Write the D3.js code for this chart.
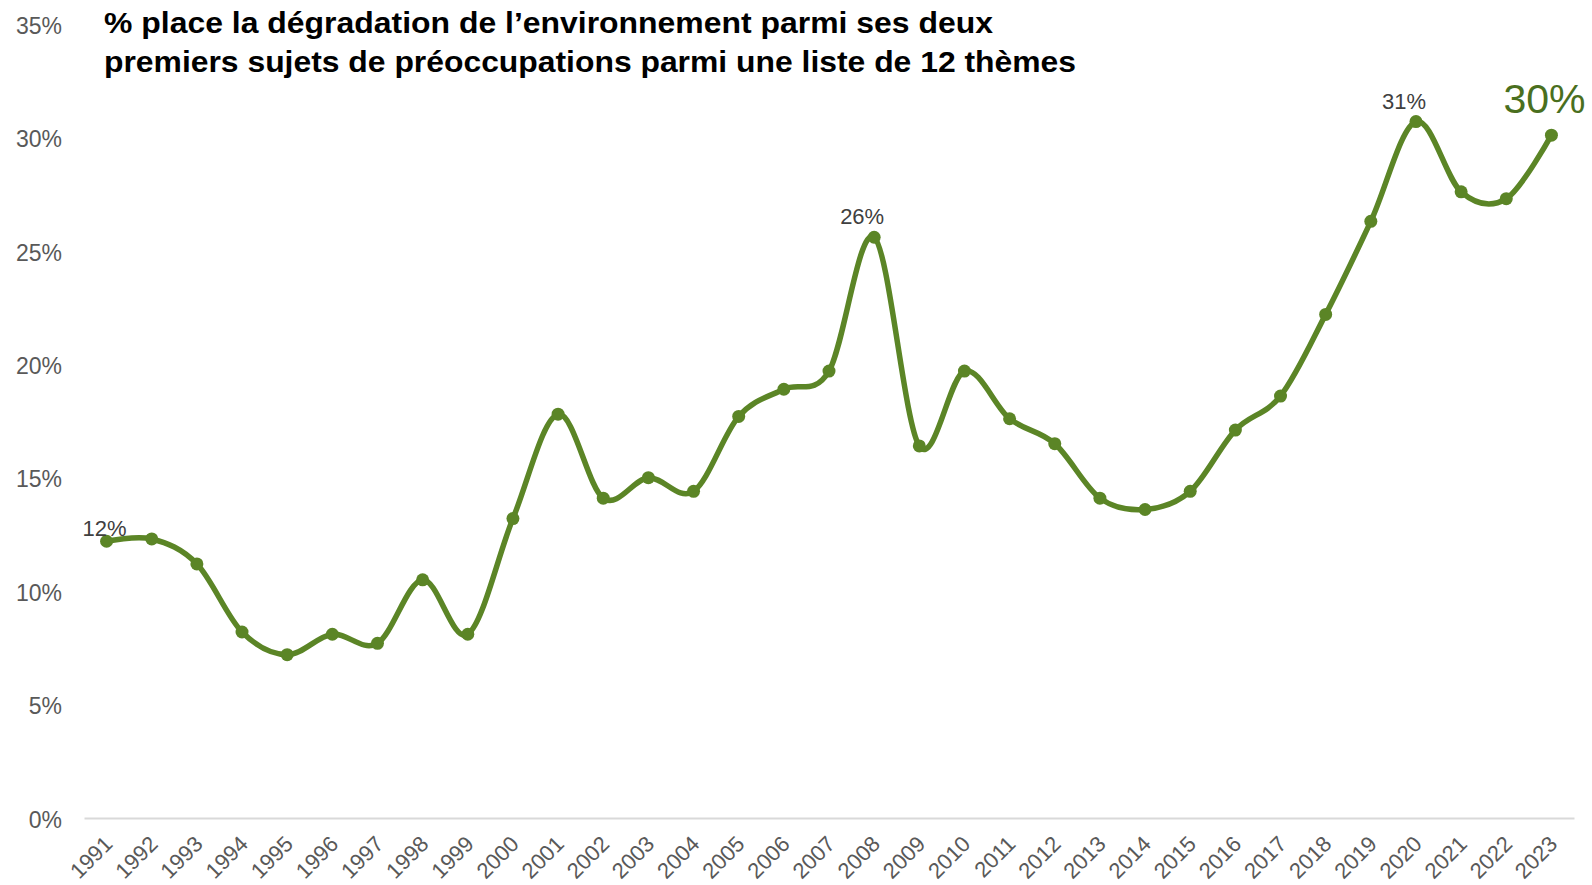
<!DOCTYPE html>
<html>
<head>
<meta charset="utf-8">
<script src="https://cdn.jsdelivr.net/npm/d3@7"></script>
<style>
  html, body { margin: 0; padding: 0; background: #ffffff; }
  svg { display: block; font-family: "Liberation Sans", Arial, sans-serif; }
</style>
</head>
<body>
<svg id="chart" width="1592" height="885"></svg>
<script>
const years = ["1991","1992","1993","1994","1995","1996","1997","1998","1999","2000",
  "2001","2002","2003","2004","2005","2006","2007","2008","2009","2010",
  "2011","2012","2013","2014","2015","2016","2017","2018","2019","2020",
  "2021","2022","2023"];
const values = [12.2, 12.3, 11.2, 8.2, 7.2, 8.1, 7.7, 10.5, 8.1, 13.2,
  17.8, 14.1, 15.0, 14.4, 17.7, 18.9, 19.7, 25.6, 16.4, 19.7,
  17.6, 16.5, 14.1, 13.6, 14.4, 17.1, 18.6, 22.2, 26.3, 30.7,
  27.6, 27.3, 30.1];
const yTicks = [0, 5, 10, 15, 20, 25, 30, 35];
const labelledYears = ["1991", "2008", "2020"];
const highlightYear = "2023";
const titleLines = [
  "% place la dégradation de l’environnement parmi ses deux",
  "premiers sujets de préoccupations parmi une liste de 12 thèmes"
];

const svg = d3.select("#chart");
const plotLeft = 84, plotRight = 1574, plotTop = 24, plotBottom = 818;

const x = d3.scaleBand().domain(years).range([plotLeft, plotRight]).paddingInner(0).paddingOuter(0);
const y = d3.scaleLinear().domain([0, 35]).range([plotBottom, plotTop]);
const cx = d => x(d) + x.bandwidth() / 2;

const green = "#5b8526";
const gray = "#595959";

// y axis labels
const yAxis = d3.axisLeft(y).tickValues(yTicks).tickFormat(d => d + "%").tickSize(0).tickPadding(22);
const gy = svg.append("g").attr("transform", `translate(${plotLeft},0)`).call(yAxis);
gy.select(".domain").remove();
gy.selectAll("text").attr("font-size", 23).attr("fill", gray)
  .attr("font-family", "Liberation Sans, Arial, sans-serif").attr("dy", "0.4em");

// x axis
const xAxis = d3.axisBottom(x).tickSize(0).tickPadding(0);
const gx = svg.append("g").attr("transform", `translate(0,${plotBottom})`).call(xAxis);
gx.select(".domain").attr("stroke", "#d9d9d9").attr("stroke-width", 2);
gx.selectAll("text")
  .attr("font-size", 22).attr("fill", gray)
  .attr("font-family", "Liberation Sans, Arial, sans-serif")
  .attr("text-anchor", "end")
  .attr("dy", null).attr("y", 0)
  .attr("transform", "translate(-4,16) rotate(-45)")
  .attr("dominant-baseline", "hanging");

// line
const pts = years.map((yr, i) => [cx(yr), y(values[i])]);
const line = d3.line().curve(d3.curveCardinal.tension(0));
svg.append("path").attr("d", line(pts))
  .attr("fill", "none").attr("stroke", green).attr("stroke-width", 5.5)
  .attr("stroke-linejoin", "round").attr("stroke-linecap", "round");

svg.append("g").selectAll("circle").data(years).join("circle")
  .attr("cx", d => cx(d)).attr("cy", (d, i) => y(values[i])).attr("r", 6.5)
  .attr("fill", green);

// data labels
svg.append("g").selectAll("text").data(labelledYears).join("text")
  .attr("x", d => cx(d) - (d === "1991" ? 2 : 12))
  .attr("y", d => y(values[years.indexOf(d)]) - (d === "1991" ? 5 : 13))
  .attr("text-anchor", "middle").attr("font-size", 22).attr("fill", "#404040")
  .text(d => Math.round(values[years.indexOf(d)]) + "%");

svg.append("text")
  .attr("x", cx(highlightYear) - 7)
  .attr("y", y(values[years.indexOf(highlightYear)]) - 22)
  .attr("text-anchor", "middle").attr("font-size", 41).attr("fill", "#4a6f1e")
  .text(Math.round(values[years.indexOf(highlightYear)]) + "%");

// title
const titleWidths = [889, 972];
const t = svg.append("text").attr("font-size", 29).attr("font-weight", "bold").attr("fill", "#000");
titleLines.forEach((s, i) => {
  t.append("tspan").attr("x", 104).attr("y", 33 + i * 39)
    .attr("textLength", titleWidths[i]).attr("lengthAdjust", "spacingAndGlyphs").text(s);
});
</script>
</body>
</html>
